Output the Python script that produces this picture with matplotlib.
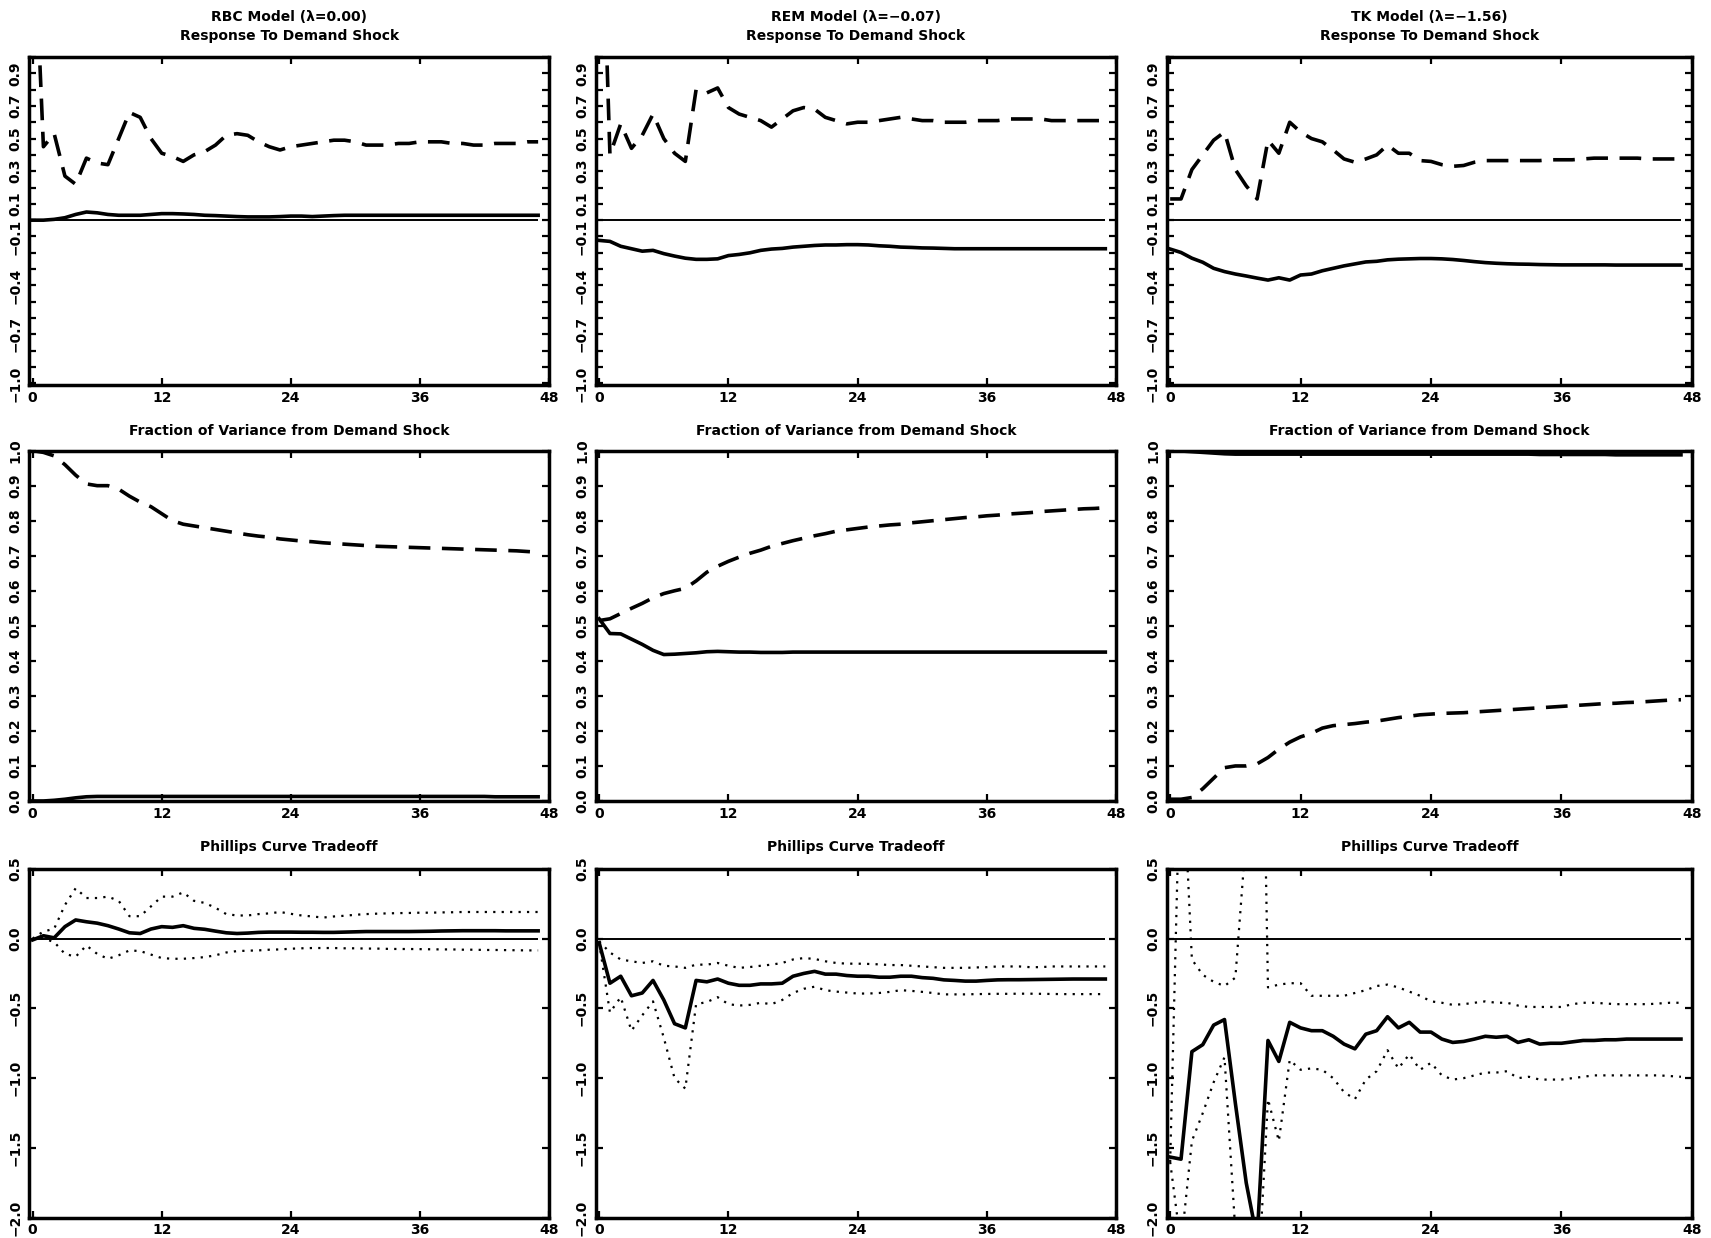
import numpy as np
import matplotlib
matplotlib.use("Agg")
import matplotlib.pyplot as plt

plt.rcParams['font.family'] = ['DejaVu Sans']
plt.rcParams['font.weight'] = 'bold'

# horizons (quarters)
t = np.arange(48)

models = ['RBC Model (λ=0.00)', 'REM Model (λ=−0.07)', 'TK Model (λ=−1.56)']

# ---- response to demand shock (dashed / solid)
rbc_resp_dash = [2.0, 0.45, 0.53, 0.27, 0.22, 0.38, 0.35, 0.34, 0.50, 0.66, 0.63, 0.50,
                 0.41, 0.39, 0.36, 0.40, 0.42, 0.46, 0.52, 0.53, 0.52, 0.48, 0.45, 0.43,
                 0.45, 0.46, 0.47, 0.48, 0.49, 0.49, 0.48, 0.46, 0.46, 0.46, 0.47, 0.47,
                 0.48, 0.48, 0.48, 0.47, 0.47, 0.46, 0.46, 0.47, 0.47, 0.47, 0.48, 0.48]
rbc_resp_solid = [0.0, 0.0, 0.005, 0.015, 0.035, 0.05, 0.045, 0.035, 0.03, 0.03, 0.03, 0.035,
                  0.04, 0.04, 0.038, 0.035, 0.03, 0.028, 0.025, 0.022, 0.02, 0.02, 0.02, 0.022,
                  0.025, 0.025, 0.022, 0.025, 0.028, 0.03, 0.03, 0.03, 0.03, 0.03, 0.03, 0.03,
                  0.03, 0.03, 0.03, 0.03, 0.03, 0.03, 0.03, 0.03, 0.03, 0.03, 0.03, 0.03]
rem_resp_dash = [2.5, 0.40, 0.59, 0.44, 0.52, 0.65, 0.50, 0.41, 0.36, 0.80, 0.78, 0.81,
                 0.69, 0.65, 0.63, 0.61, 0.57, 0.62, 0.67, 0.69, 0.68, 0.63, 0.61, 0.59,
                 0.60, 0.60, 0.61, 0.62, 0.63, 0.62, 0.61, 0.61, 0.60, 0.60, 0.60, 0.61,
                 0.61, 0.61, 0.62, 0.62, 0.62, 0.62, 0.61, 0.61, 0.61, 0.61, 0.61, 0.61]
rem_resp_solid = [-0.124, -0.13, -0.16, -0.175, -0.19, -0.185, -0.205, -0.22, -0.233, -0.24, -0.24, -0.237,
                  -0.217, -0.21, -0.20, -0.185, -0.177, -0.173, -0.165, -0.16, -0.155, -0.152, -0.152, -0.15,
                  -0.15, -0.152, -0.157, -0.16, -0.165, -0.167, -0.17, -0.171, -0.173, -0.175, -0.175, -0.175,
                  -0.175, -0.175, -0.175, -0.175, -0.175, -0.175, -0.175, -0.175, -0.175, -0.175, -0.175, -0.175]
tk_resp_dash = [0.13, 0.13, 0.31, 0.40, 0.49, 0.54, 0.31, 0.21, 0.13, 0.49, 0.41, 0.60,
                0.54, 0.50, 0.48, 0.43, 0.375, 0.355, 0.375, 0.40, 0.46, 0.41, 0.41, 0.365,
                0.36, 0.34, 0.33, 0.335, 0.355, 0.365, 0.365, 0.365, 0.365, 0.365, 0.365, 0.37,
                0.37, 0.37, 0.375, 0.38, 0.38, 0.38, 0.38, 0.38, 0.375, 0.375, 0.375, 0.375]
tk_resp_solid = [-0.177, -0.198, -0.233, -0.258, -0.295, -0.315, -0.33, -0.342, -0.355, -0.367, -0.353, -0.367,
                 -0.336, -0.33, -0.31, -0.295, -0.28, -0.268, -0.256, -0.252, -0.243, -0.239, -0.237, -0.235,
                 -0.235, -0.237, -0.241, -0.247, -0.254, -0.26, -0.264, -0.267, -0.269, -0.27, -0.272, -0.273,
                 -0.274, -0.274, -0.274, -0.274, -0.274, -0.275, -0.275, -0.275, -0.275, -0.275, -0.275, -0.275]

# ---- fraction of variance from demand shock
rbc_var_dash = [1.0, 0.995, 0.985, 0.96, 0.93, 0.905, 0.90, 0.90, 0.89, 0.87, 0.853, 0.84,
                0.82, 0.80, 0.79, 0.785, 0.78, 0.775, 0.77, 0.765, 0.76, 0.756, 0.753, 0.748,
                0.745, 0.742, 0.74, 0.737, 0.735, 0.733, 0.731, 0.729, 0.727, 0.726, 0.725, 0.724,
                0.723, 0.722, 0.721, 0.72, 0.719, 0.718, 0.717, 0.716, 0.715, 0.714, 0.712, 0.71]
rbc_var_solid = [0.0, 0.0, 0.002, 0.005, 0.009, 0.012, 0.013, 0.013, 0.013, 0.013, 0.013, 0.013,
                 0.013, 0.013, 0.013, 0.013, 0.013, 0.013, 0.013, 0.013, 0.013, 0.013, 0.013, 0.013,
                 0.013, 0.013, 0.013, 0.013, 0.013, 0.013, 0.013, 0.013, 0.013, 0.013, 0.013, 0.013,
                 0.013, 0.013, 0.013, 0.013, 0.013, 0.013, 0.013, 0.012, 0.012, 0.012, 0.012, 0.012]
rem_var_dash = [0.515, 0.52, 0.535, 0.55, 0.564, 0.58, 0.592, 0.60, 0.607, 0.628, 0.653, 0.67,
                0.684, 0.696, 0.707, 0.716, 0.727, 0.735, 0.743, 0.75, 0.757, 0.763, 0.77, 0.774,
                0.778, 0.782, 0.785, 0.788, 0.79, 0.794, 0.797, 0.80, 0.803, 0.806, 0.809, 0.811,
                0.814, 0.816, 0.819, 0.821, 0.823, 0.826, 0.828, 0.83, 0.832, 0.834, 0.835, 0.837]
rem_var_solid = [0.52, 0.478, 0.477, 0.462, 0.447, 0.43, 0.418, 0.419, 0.421, 0.423, 0.426, 0.427,
                 0.426, 0.425, 0.425, 0.424, 0.424, 0.424, 0.425, 0.425, 0.425, 0.425, 0.425, 0.425,
                 0.425, 0.425, 0.425, 0.425, 0.425, 0.425, 0.425, 0.425, 0.425, 0.425, 0.425, 0.425,
                 0.425, 0.425, 0.425, 0.425, 0.425, 0.425, 0.425, 0.425, 0.425, 0.425, 0.425, 0.425]
tk_var_dash = [0.005, 0.005, 0.01, 0.035, 0.065, 0.095, 0.10, 0.10, 0.106, 0.124, 0.148, 0.168,
               0.183, 0.193, 0.208, 0.215, 0.218, 0.221, 0.225, 0.228, 0.233, 0.238, 0.242, 0.246,
               0.248, 0.25, 0.251, 0.252, 0.254, 0.256, 0.258, 0.26, 0.262, 0.264, 0.266, 0.268,
               0.27, 0.272, 0.274, 0.276, 0.278, 0.279, 0.281, 0.282, 0.284, 0.286, 0.288, 0.289]
tk_var_solid = [1.0, 0.999, 0.997, 0.995, 0.993, 0.991, 0.99, 0.99, 0.99, 0.99, 0.99, 0.99,
                0.99, 0.99, 0.99, 0.99, 0.99, 0.99, 0.99, 0.99, 0.99, 0.99, 0.99, 0.99,
                0.99, 0.99, 0.99, 0.99, 0.99, 0.99, 0.99, 0.99, 0.99, 0.99, 0.989, 0.989,
                0.989, 0.989, 0.989, 0.989, 0.989, 0.988, 0.988, 0.988, 0.988, 0.988, 0.988, 0.988]

# ---- phillips curve tradeoff (estimate and bands)
rbc_pc_mid = [-0.01, 0.02, 0.005, 0.085, 0.133, 0.12, 0.11, 0.092, 0.068, 0.041, 0.036, 0.068,
              0.085, 0.08, 0.092, 0.073, 0.066, 0.053, 0.041, 0.036, 0.039, 0.044, 0.046, 0.046,
              0.046, 0.045, 0.045, 0.044, 0.044, 0.046, 0.048, 0.05, 0.05, 0.05, 0.05, 0.05,
              0.051, 0.052, 0.054, 0.055, 0.056, 0.056, 0.056, 0.056, 0.055, 0.055, 0.055, 0.055]
rbc_pc_hi = [0.0, 0.05, 0.07, 0.24, 0.36, 0.29, 0.29, 0.30, 0.27, 0.16, 0.16, 0.23,
             0.30, 0.30, 0.33, 0.27, 0.255, 0.22, 0.175, 0.165, 0.165, 0.175, 0.18, 0.19,
             0.177, 0.165, 0.158, 0.15, 0.158, 0.163, 0.17, 0.175, 0.178, 0.18, 0.182, 0.183,
             0.185, 0.185, 0.187, 0.188, 0.19, 0.19, 0.19, 0.19, 0.19, 0.19, 0.19, 0.19]
rbc_pc_lo = [-0.01, 0.0, -0.025, -0.11, -0.13, -0.05, -0.11, -0.145, -0.12, -0.085, -0.09, -0.115,
             -0.14, -0.145, -0.145, -0.14, -0.133, -0.12, -0.10, -0.09, -0.087, -0.085, -0.08, -0.078,
             -0.073, -0.07, -0.068, -0.068, -0.068, -0.07, -0.07, -0.072, -0.072, -0.074, -0.075, -0.075,
             -0.076, -0.077, -0.078, -0.078, -0.08, -0.08, -0.082, -0.082, -0.083, -0.084, -0.085, -0.085]
rem_pc_mid = [-0.03, -0.32, -0.27, -0.41, -0.39, -0.30, -0.44, -0.61, -0.64, -0.30, -0.31, -0.29,
              -0.32, -0.335, -0.335, -0.325, -0.325, -0.32, -0.27, -0.25, -0.235, -0.255, -0.255, -0.265,
              -0.27, -0.27, -0.277, -0.277, -0.27, -0.27, -0.28, -0.285, -0.296, -0.30, -0.305, -0.305,
              -0.30, -0.296, -0.295, -0.295, -0.294, -0.293, -0.292, -0.291, -0.29, -0.29, -0.29, -0.29]
rem_pc_hi = [-0.02, -0.10, -0.15, -0.163, -0.175, -0.163, -0.195, -0.2, -0.21, -0.187, -0.187, -0.175,
             -0.195, -0.21, -0.204, -0.195, -0.187, -0.175, -0.15, -0.14, -0.146, -0.163, -0.175, -0.18,
             -0.18, -0.182, -0.185, -0.19, -0.19, -0.195, -0.2, -0.205, -0.21, -0.21, -0.21, -0.207,
             -0.205, -0.2, -0.2, -0.2, -0.205, -0.205, -0.2, -0.2, -0.2, -0.2, -0.2, -0.2]
rem_pc_lo = [-0.03, -0.53, -0.42, -0.66, -0.55, -0.45, -0.71, -1.0, -1.075, -0.47, -0.455, -0.42,
             -0.47, -0.48, -0.475, -0.46, -0.47, -0.44, -0.39, -0.36, -0.345, -0.37, -0.38, -0.387,
             -0.394, -0.394, -0.39, -0.382, -0.37, -0.375, -0.382, -0.39, -0.4, -0.4, -0.4, -0.398,
             -0.397, -0.396, -0.396, -0.395, -0.395, -0.396, -0.397, -0.398, -0.398, -0.398, -0.398, -0.398]
tk_pc_mid = [-1.565, -1.58, -0.81, -0.76, -0.62, -0.58, -1.18, -1.75, -2.15, -0.73, -0.88, -0.60,
             -0.64, -0.66, -0.66, -0.70, -0.756, -0.79, -0.685, -0.66, -0.56, -0.64, -0.60, -0.67,
             -0.67, -0.72, -0.744, -0.737, -0.72, -0.70, -0.707, -0.70, -0.744, -0.725, -0.756, -0.75,
             -0.75, -0.74, -0.73, -0.73, -0.725, -0.725, -0.72, -0.72, -0.72, -0.72, -0.72, -0.72]
tk_pc_hi = [-1.6, 1.5, -0.15, -0.26, -0.31, -0.34, -0.28, 0.75, 4.0, -0.35, -0.33, -0.32,
            -0.32, -0.41, -0.41, -0.41, -0.41, -0.39, -0.37, -0.34, -0.33, -0.35, -0.38, -0.41,
            -0.45, -0.46, -0.475, -0.47, -0.46, -0.45, -0.46, -0.46, -0.48, -0.49, -0.49, -0.49,
            -0.49, -0.47, -0.46, -0.46, -0.465, -0.47, -0.47, -0.47, -0.47, -0.465, -0.46, -0.46]
tk_pc_lo = [-1.6, -2.2, -1.45, -1.25, -1.03, -0.85, -2.1, -4.0, -2.6, -1.15, -1.45, -0.87,
            -0.94, -0.93, -0.94, -1.0, -1.10, -1.15, -1.01, -0.95, -0.80, -0.93, -0.83, -0.94,
            -0.89, -0.98, -1.01, -1.0, -0.98, -0.96, -0.96, -0.95, -1.0, -0.99, -1.01, -1.01,
            -1.01, -1.0, -0.99, -0.98, -0.98, -0.98, -0.98, -0.98, -0.98, -0.98, -0.985, -0.99]

resp = [(rbc_resp_dash, rbc_resp_solid), (rem_resp_dash, rem_resp_solid), (tk_resp_dash, tk_resp_solid)]
var = [(rbc_var_dash, rbc_var_solid), (rem_var_dash, rem_var_solid), (tk_var_dash, tk_var_solid)]
pc = [(rbc_pc_mid, rbc_pc_hi, rbc_pc_lo), (rem_pc_mid, rem_pc_hi, rem_pc_lo), (tk_pc_mid, tk_pc_hi, tk_pc_lo)]

resp_ticks = [-1.0, -0.7, -0.4, -0.1, 0.1, 0.3, 0.5, 0.7, 0.9]
var_ticks = [0.0, 0.1, 0.2, 0.3, 0.4, 0.5, 0.6, 0.7, 0.8, 0.9, 1.0]
pc_ticks = [-2.0, -1.5, -1.0, -0.5, 0.0, 0.5]
x_ticks = [0, 12, 24, 36, 48]

cols = [(0.0172, 0.3036), (0.3483, 0.304), (0.682, 0.3068)]
rows = [(0.689, 0.265), (0.353, 0.283), (0.0163, 0.282)]

DASH = dict(color='black', lw=2.6, dashes=(6, 3.2))
SOLID = dict(color='black', lw=2.6)
DOT = dict(color='black', lw=1.6, linestyle=(0, (1, 2.8)))
ZERO = dict(color='black', lw=1.4)


def frame(ax, ylim, ticks, minor=None):
    ax.set_xlim(-0.3, 48)
    ax.set_ylim(*ylim)
    ax.set_xticks(x_ticks)
    ax.set_xticklabels([str(v) for v in x_ticks], fontsize=10, fontweight='bold')
    ax.set_yticks(ticks)
    ax.set_yticklabels([f'{v:.1f}'.replace('-', '−') for v in ticks],
                       rotation=90, va='center', fontsize=10, fontweight='bold')
    if minor is not None:
        ax.set_yticks(minor, minor=True)
    ax.tick_params(which='both', direction='in', top=True, right=True, length=5, width=1.6)
    ax.tick_params(axis='y', pad=5)
    ax.tick_params(axis='x', pad=4)
    for s in ax.spines.values():
        s.set_linewidth(2.5)


fig = plt.figure(figsize=(17.11, 12.38), dpi=100)

for j in range(3):
    x0, w = cols[j]

    # row 1 - responses
    ax = fig.add_axes([x0, rows[0][0], w, rows[0][1]])
    d, s = resp[j]
    ax.plot(t, d, **DASH)
    ax.plot(t, s, **SOLID)
    ax.hlines(0, t[0], t[-1], **ZERO)
    frame(ax, (-1.01, 1.0), resp_ticks, np.round(np.arange(-1.0, 1.01, 0.1), 1))
    ax.set_title(models[j] + '\nResponse To Demand Shock', fontsize=10,
                 fontweight='bold', pad=12, linespacing=1.45)

    # row 2 - variance shares
    ax = fig.add_axes([x0, rows[1][0], w, rows[1][1]])
    d, s = var[j]
    ax.plot(t, d, **DASH)
    ax.plot(t, s, **SOLID)
    frame(ax, (0.0, 1.0), var_ticks)
    ax.set_title('Fraction of Variance from Demand Shock', fontsize=10,
                 fontweight='bold', pad=11)

    # row 3 - phillips curve
    ax = fig.add_axes([x0, rows[2][0], w, rows[2][1]])
    m, hi, lo = pc[j]
    ax.plot(t, hi, **DOT)
    ax.plot(t, lo, **DOT)
    ax.plot(t, m, **SOLID)
    ax.hlines(0, t[0], t[-1], **ZERO)
    frame(ax, (-2.0, 0.5), pc_ticks)
    ax.set_title('Phillips Curve Tradeoff', fontsize=10, fontweight='bold', pad=13)

fig.savefig('out.png', dpi=100)
